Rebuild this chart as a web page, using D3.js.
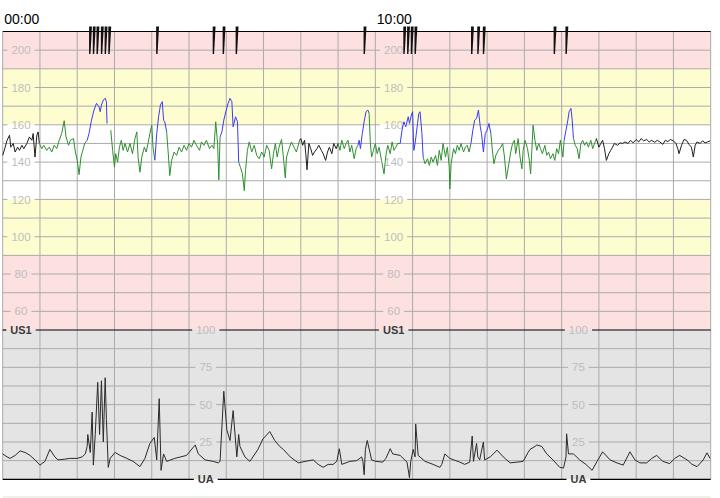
<!DOCTYPE html>
<html><head><meta charset="utf-8">
<script src="https://cdn.jsdelivr.net/npm/d3@7"></script>
<style>body{margin:0;background:#fff;}svg{display:block;font-family:"Liberation Sans",Arial,sans-serif;}</style>
</head><body><svg id="c" width="720" height="498"></svg>
<script>
// ---------- DATA ----------
const totalSeconds = 1140;               // 19 one-minute columns
const timeLabels = ["00:00", "10:00"];
const timeLabelSeconds = [0, 600];
const fhrTicks = [200, 180, 160, 140, 120, 100, 80, 60];
const uaTicks = [100, 75, 50, 25];
const fhrZones = [[190, 210, "high"], [160, 190, "warn"], [120, 160, "normal"], [90, 120, "warn"], [50, 90, "high"]];
const channelLabels = ["US1", "UA"];
// fetal movement marks (seconds)
const movementMarks = [141, 147, 153, 160, 166, 172, 249, 340, 356, 377, 583, 647, 653, 659, 665, 756, 766, 775, 889, 908];
// FHR trace [seconds, bpm]
const fhr = [
[0,143.6],[4,148],[7,151.7],[11,154.4],[13,148],[17,150],[20,145.4],[24,148],[27,146.3],[31,149],[34,147.2],[39,150],[43,153.5],[47,151.7],[49,155.3],[52,142.7],[55,154.4],[57,156.2],[59,150],
[63,147.2],[66,149],[71,146.3],[75,148],[79,145.4],[83,149],[87,147.2],[91,151.7],[95,155.3],[99,162.2],[102,153.5],[106,149],[109,151.7],[114,152.6],[117,145.4],[120,141],[123,133.3],[126,142.7],[129,146.3],[132,150],[136,151.7],
[139,155.3],[143,162.5],[147,167.9],[151,171.5],[155,169.7],[157,167],[159,170.6],[162,173.3],[165,174.2],[167,172.4],[168,160.7],
[174,157.1],[177,146.3],[180,137.3],[182,144.5],[185,140],[188,148],[191,151.7],[194,146.3],[197,150],[201,145.4],[205,150],[209,144.5],[213,152.6],[216,156.2],[218,142.7],[221,134.6],[224,142.7],[228,148],[231,145.4],[234,150],[237,155.3],[240,159.8],[242,148],[245,141],
[248,155.3],[251,164.3],[254,170.6],[257,172.4],[259,162.5],[261,161.6],[264,156.2],
[267,142.7],[269,132.8],[272,140.9],[276,145.4],[280,143.6],[284,148],[288,145.4],[292,149],[296,146.3],[300,150],[304,148],[308,151.7],[312,149],[317,146.3],[320,150.8],[324,149],[328,151.7],[333,147.2],[337,149],[340,147.2],[343,161.6],[346,150],[348,130.5],[350,153.5],
[353,156.2],[356,162.5],[360,167.9],[363,171.5],[366,174.2],[369,172.4],[371,158.9],[375,164.3],[378,161.6],[380,140],
[383,137],[386,133.7],[389,124.7],[391,135.5],[394,146.3],[397,150.8],[401,145.4],[405,149],[409,143.6],[413,141.8],[417,145.4],[421,142.7],[425,149],[429,146.3],[433,136.4],[436,144.5],[439,150],[442,142.7],[445,148],[449,152.1],[452,142.7],[455,131.5],[457,142.7],[461,147.2],[465,150.8],[469,148],[473,145.4],[478,151.7],
[480,152.6],[483,149],[486,151.7],[488,144.5],[490,135.9],[493,150],[496,147.2],[499,143.6],[502,145.4],[506,147.2],[509,149],[513,146.3],[516,144.5],[520,140.9],[523,145.4],[526,148],[530,144.5],[533,150],[537,147.2],[540,150],
[543,146.3],[546,151.7],[550,147.2],[553,150],[556,151.7],[559,145.4],[562,149],[566,141.8],[569,147.2],[572,149],
[574,151.7],[576,147.2],[579,155.3],[582,161.6],[585,167],[588,167.9],[590,166.1],
[592,150],[594,142.7],[597,146.3],[600,150],[603,144.5],[606,148],[610,140.9],[614,133.7],[617,143.6],[620,149],[624,144.5],[627,150.8],[630,146.3],[633,148],[636,150],[640,150],
[643,157.1],[646,161.6],[649,158.9],[653,164.3],[655,160.7],[658,165.2],[660,167],[662,146.3],[664,150],[668,160.7],[670,166.1],[672,167],[675,155.3],[677,142.7],
[680,139.1],[684,141.8],[687,138.2],[690,142.7],[693,140],[697,143.6],[700,138.2],[703,146.3],[706,140.9],[709,150],[713,142.7],[716,148],[719,137.3],[720,125.6],[722,139.1],[726,147.2],[729,144.5],[732,149],[735,146.3],[738,150],[742,145.4],[745,148],[748,149],[751,145.4],[754,150],
[757,157.1],[760,162.5],[763,163.4],[766,167.9],[769,158.9],[771,155.3],[774,145.4],[777,155.3],[780,157.1],[783,160.7],[786,155.3],
[789,144.5],[791,139.1],[794,143.6],[798,146.3],[802,148],[805,150],[808,142.7],[811,131],[815,139.1],[818,145.4],[821,150],[824,151.7],[826,144.5],[830,152.6],[833,142.7],[836,136.4],[838,146.3],[841,151.7],[845,147.2],[848,140.9],[850,133.7],[852,146.3],[854,159.8],[857,151.7],[860,146.3],[863,150],[866,147.2],[869,144.5],[873,149],[876,143.6],[879,145.4],[882,141.8],[886,144.5],[889,140.9],[892,147.2],[895,144.5],[898,151.7],[902,142.7],[904,151.7],
[907,157.1],[910,162.5],[912,167],[915,168.8],[917,162.5],[919,152.6],
[922,149],[925,147.2],[928,141.8],[931,150],[934,151.7],[937,149],[940,150.8],[943,148],[947,151.7],[950,147.2],[953,150],[956,152.6],
[960,148],[963,150],[966,151.7],[969,147.2],[972,140.9],[976,144.5],[979,146.3],[982,148],[985,150],[990,149],[994,150.3],[998,150],[1002,150.8],[1007,150],[1011,151.7],[1015,150.3],[1020,152.1],[1024,150.8],[1028,152.6],[1032,151.4],[1037,152.1],[1041,150.8],[1045,151.7],[1050,150.6],[1054,151.7],[1058,150.8],[1063,149.5],[1067,151.7],[1071,151],[1075,152.1],[1080,151.4],[1084,150],[1087,147.2],[1089,144.5],[1093,149],[1097,152.1],[1101,151.7],[1105,149.5],[1109,148],[1112,142.7],[1115,149],[1118,150.8],[1123,150],[1127,151.4],[1131,150.3],[1135,150.8],[1139,151.4]
];
// signal classification runs [start s, end s, class]
const fhrRuns = [[0,59,"none"],[59,136,"good"],[136,168,"accel"],[174,245,"good"],[245,264,"accel"],[264,350,"good"],[350,380,"accel"],[380,478,"good"],[478,540,"none"],[540,572,"good"],[572,590,"accel"],[590,640,"good"],[640,677,"accel"],[677,754,"good"],[754,786,"accel"],[786,904,"good"],[904,919,"accel"],[919,956,"good"],[956,1139,"none"]];
// uterine activity [seconds, value]
const ua = [[0,17],[7,15],[12,14],[20,16],[28,19],[36,18],[44,16],[52,13],[60,9.5],[68,12],[76,20],[84,15],[89,13],[100,13.5],[108,14],[120,14],[128,15],[133,17],[136,22],[137,30],[141,18],[144,45],[146,9.5],[149,30],[153,65],[156,30],[159,66],[162,25],[165,68],[167,40],[170,8],[173,14],[181,18],[189,16],[200,14],[210,12],[221,8.5],[229,14],[237,24],[244,28],[248,13],[252,54],[255,6],[259,17],[264,12],[277,14],[296,16],[310,23],[315,17],[326,13],[339,12],[347,11],[350,12],[356,59],[361,33],[366,26],[371,46],[377,15],[380,30],[382,22],[390,15],[398,12],[411,20],[419,27],[430,32],[438,26],[446,22],[452,20],[463,15],[476,11],[487,12],[500,13],[508,10],[516,8],[524,10],[532,10],[538,12],[542,20.5],[546,10],[559,12],[570,12.5],[578,15],[580,12],[582,3],[584,20],[587,26],[594,13],[601,12],[612,11.5],[617,14],[624,20.5],[628,17],[640,16],[651,11.5],[655,1],[657,12],[661,20],[664,15],[665,37],[669,16],[680,12],[693,10],[704,8],[707,10],[712,17],[720,14],[736,11.5],[744,10],[752,11.5],[756,29],[758,12],[763,24],[765,15],[768,13],[774,25],[776,13],[785,15],[796,19.5],[806,15],[817,11],[828,11.5],[838,12],[846,18],[849,20],[857,22],[860,23],[868,22],[876,17],[886,13],[897,8],[903,7.5],[907,15],[908,30.5],[911,17],[919,17],[929,13],[939,10],[949,6],[957,12],[966,18.4],[978,13],[989,11],[999,9.5],[1010,18.4],[1018,13],[1026,11],[1037,11],[1045,14],[1053,16],[1063,12],[1074,10.5],[1082,14],[1090,16],[1102,13],[1110,10],[1118,8.5],[1128,13],[1134,17.7],[1139,14]];

// ---------- LAYOUT ----------
const X0 = 2.7, X1 = 710.7;
const x = d3.scaleLinear().domain([0, totalSeconds]).range([X0, X1]);
const yF = d3.scaleLinear().domain([50, 210]).range([330, 31.5]);
const yU = d3.scaleLinear().domain([0, 100]).range([479.3, 330]);
const fhrLabelSec = [29.5, 629.5];
const uaLabelSec = [327, 927];
const zoneFill = {high: "#fde0e0", warn: "#fdfdd0", normal: "#ffffff"};
const runColor = {none: "#1e1e1e", good: "#2f8f2f", accel: "#3a3aff"};
const gridColor = "#ababab";

const svg = d3.select("#c");
const gBg = svg.append("g"), gGrid = svg.append("g"), gLbl = svg.append("g"), gData = svg.append("g"), gTop = svg.append("g");

// measure helper
const meas = svg.append("text").attr("visibility", "hidden");
function textW(t, size, weight) {
  meas.text(t).attr("font-size", size).attr("font-weight", weight || "normal");
  return meas.node().getComputedTextLength();
}

// backgrounds
gBg.selectAll("rect.zone").data(fhrZones).join("rect")
  .attr("x", X0).attr("width", X1 - X0)
  .attr("y", d => yF(d[1])).attr("height", d => yF(d[0]) - yF(d[1]))
  .attr("fill", d => zoneFill[d[2]]);
gBg.append("rect").attr("x", X0).attr("width", X1 - X0).attr("y", yU(100)).attr("height", yU(0) - yU(100)).attr("fill", "#e4e4e4");
gBg.append("rect").attr("x", X0).attr("width", X1 - X0).attr("y", 496).attr("height", 2).attr("fill", "#f0f0e6");

// vertical grid
gGrid.selectAll("line.v").data(d3.range(0, totalSeconds + 1, 60)).join("line")
  .attr("x1", d => x(d)).attr("x2", d => x(d)).attr("y1", yF(210)).attr("y2", yU(0))
  .attr("stroke", gridColor).attr("stroke-width", 1);

function hLine(yv, gaps, color, width) {
  const segs = []; let s = X0;
  gaps.slice().sort((a, b) => a[0] - b[0]).forEach(([a, b]) => { if (a > s) segs.push([s, a]); s = Math.max(s, b); });
  if (s < X1) segs.push([s, X1]);
  segs.forEach(([a, b]) => gGrid.append("line").attr("x1", a).attr("x2", b).attr("y1", yv).attr("y2", yv)
    .attr("stroke", color).attr("stroke-width", width));
}
function label(text, cx, yv, size, weight, fill) {
  gLbl.append("text").attr("x", cx).attr("y", yv).attr("dy", "0.36em").attr("text-anchor", "middle")
    .attr("font-size", size).attr("font-weight", weight).attr("fill", fill).text(text);
  const w = textW(text, size, weight);
  return [cx - w / 2 - 4, cx + w / 2 + 4];
}

// FHR horizontal grid
d3.range(60, 201, 10).forEach(v => {
  let gaps = [];
  if (fhrTicks.includes(v)) gaps = fhrLabelSec.map(s => label(String(v), x(s), yF(v), 11.5, "normal", "#bdbdbd"));
  hLine(yF(v), gaps, gridColor, 1);
});
// UA horizontal grid
d3.range(12.5, 100, 12.5).forEach(v => {
  let gaps = [];
  if (uaTicks.includes(v)) gaps = uaLabelSec.map(s => label(String(v), x(s), yU(v), 11.5, "normal", "#bdbdbd"));
  hLine(yU(v), gaps, gridColor, 1);
});
// black separators
hLine(yF(210), [], "#000", 1.2);
const sepGaps = fhrLabelSec.map(s => label(channelLabels[0], x(s), yF(50), 11, "bold", "#3a3a3a"))
  .concat(uaLabelSec.map(s => label(String(uaTicks[0]), x(s), yU(100), 11.5, "normal", "#bdbdbd")));
hLine(yF(50), sepGaps, "#000", 1.2);
hLine(yU(0), uaLabelSec.map(s => label(channelLabels[1], x(s), yU(0), 11, "bold", "#3a3a3a")), "#000", 1.2);

// FHR traces split by run
const lineF = d3.line().x(d => x(d[0])).y(d => yF(d[1]));
fhrRuns.forEach(([a, b, cls]) => {
  const pts = fhr.filter(d => d[0] >= a && d[0] <= b);
  gData.append("path").attr("d", lineF(pts)).attr("fill", "none")
    .attr("stroke", runColor[cls]).attr("stroke-width", 1).attr("stroke-linejoin", "round");
});
// UA trace
const lineU = d3.line().x(d => x(d[0])).y(d => yU(d[1]));
gData.append("path").attr("d", lineU(ua)).attr("fill", "none").attr("stroke", "#2a2a2a").attr("stroke-width", 1);

// movement marks
gTop.selectAll("path.mark").data(movementMarks).join("path")
  .attr("d", d => { const c = x(d); return `M${c - 1.2},26.5 L${c + 1.7},26.5 L${c + 0.2},54 L${c - 1.2},54 Z`; })
  .attr("fill", "#111");

// time labels
gTop.selectAll("text.time").data(timeLabels).join("text")
  .attr("x", (d, i) => x(timeLabelSeconds[i]) + 1.5).attr("y", 24)
  .attr("font-size", 14).attr("fill", "#000").text(d => d);
meas.remove();
</script></body></html>
